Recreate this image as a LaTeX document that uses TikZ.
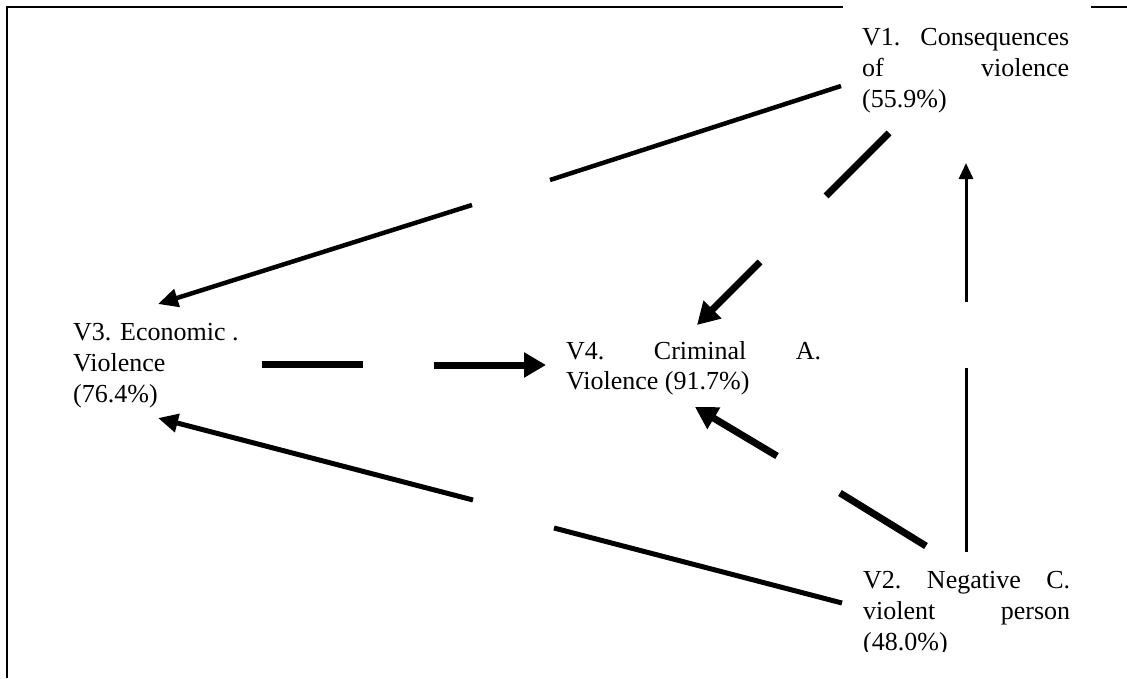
\documentclass[tikz,border=0pt]{standalone}
\usepackage{fontspec}
\setmainfont{Liberation Serif}
\usetikzlibrary{arrows.meta}
\begin{document}
\begin{tikzpicture}[x=1pt,y=-1pt,
  lbl/.style={inner sep=0pt,anchor=base west,font=\fontsize{26}{31}\selectfont},
  frame/.style={line width=1.6pt,black},
  conn/.style={line cap=butt,black},
]
\fill[white] (0,0) rectangle (1127,678);
\useasboundingbox (0,0) rectangle (1127,678);
% frame
\draw[frame] (7,678) -- (7,7) -- (843,7);
\draw[line width=2.4pt] (1091,7) -- (1127,7);

% nodes
\node[lbl] (v1) at (862,45) {\vtop{\baselineskip=31pt\hbox to 207pt{V1.\hfill Consequences}\hbox to 207pt{of\hfill violence}\hbox{(55.9\%)}}};
\node[lbl] (v3) at (73,340) {\vtop{\baselineskip=31pt\hbox{V3. Economic .}\hbox{Violence}\hbox{(76.4\%)}}};
\node[lbl] (v4) at (566,359) {\vtop{\baselineskip=30pt\hbox to 255pt{V4.\hfill Criminal\hfill A.}\hbox{Violence (91.7\%)}}};
\begin{scope}
\clip (0,0) rectangle (1127,651);
\node[lbl] (v2) at (863,588) {\vtop{\baselineskip=31pt\hbox to 207pt{V2.\hfill Negative\hfill C.}\hbox to 207pt{violent\hfill person}\hbox{(48.0\%)}}};
\end{scope}

% connector coordinates
\coordinate (a1) at (841,86);  \coordinate (a2) at (550,180);
\coordinate (a3) at (472,205); \coordinate (a4) at (158,304);
\coordinate (b1) at (889,133); \coordinate (b2) at (826,196);
\coordinate (b3) at (760,262); \coordinate (b4) at (697,325);
\coordinate (c1) at (262,364); \coordinate (c2) at (363,364);
\coordinate (c3) at (434,365); \coordinate (c4) at (546,365);
\coordinate (d1) at (926,546); \coordinate (d2) at (840,493);
\coordinate (d3) at (777,456); \coordinate (d4) at (695,407);
\coordinate (e1) at (842,603); \coordinate (e2) at (554,528);
\coordinate (e3) at (473,500); \coordinate (e4) at (158,418);
\coordinate (f1) at (966,552); \coordinate (f2) at (966,368);
\coordinate (f3) at (966,302); \coordinate (f4) at (966,163);

% V1 -> V3
\draw[conn,line width=4.5pt] (a1) -- (a2);
\draw[conn,line width=4.5pt,-{Triangle[length=20pt,width=18pt]}] (a3) -- (a4);
% V1 -> V4
\draw[conn,line width=7pt] (b1) -- (b2);
\draw[conn,line width=7pt,-{Triangle[length=22pt,width=24pt]}] (b3) -- (b4);
% V3 -> V4
\draw[conn,line width=7pt] (c1) -- (c2);
\draw[conn,line width=7pt,-{Triangle[length=22pt,width=24pt]}] (c3) -- (c4);
% V2 -> V4
\draw[conn,line width=7pt] (d1) -- (d2);
\draw[conn,line width=7pt,-{Triangle[length=22pt,width=24pt]}] (d3) -- (d4);
% V2 -> V3
\draw[conn,line width=5pt] (e1) -- (e2);
\draw[conn,line width=5pt,-{Triangle[length=20pt,width=18pt]}] (e3) -- (e4);
% V2 -> V1
\draw[conn,line width=3pt] (f1) -- (f2);
\draw[conn,line width=3pt,-{Triangle[length=16pt,width=14pt]}] (f3) -- (f4);
\end{tikzpicture}
\end{document}
